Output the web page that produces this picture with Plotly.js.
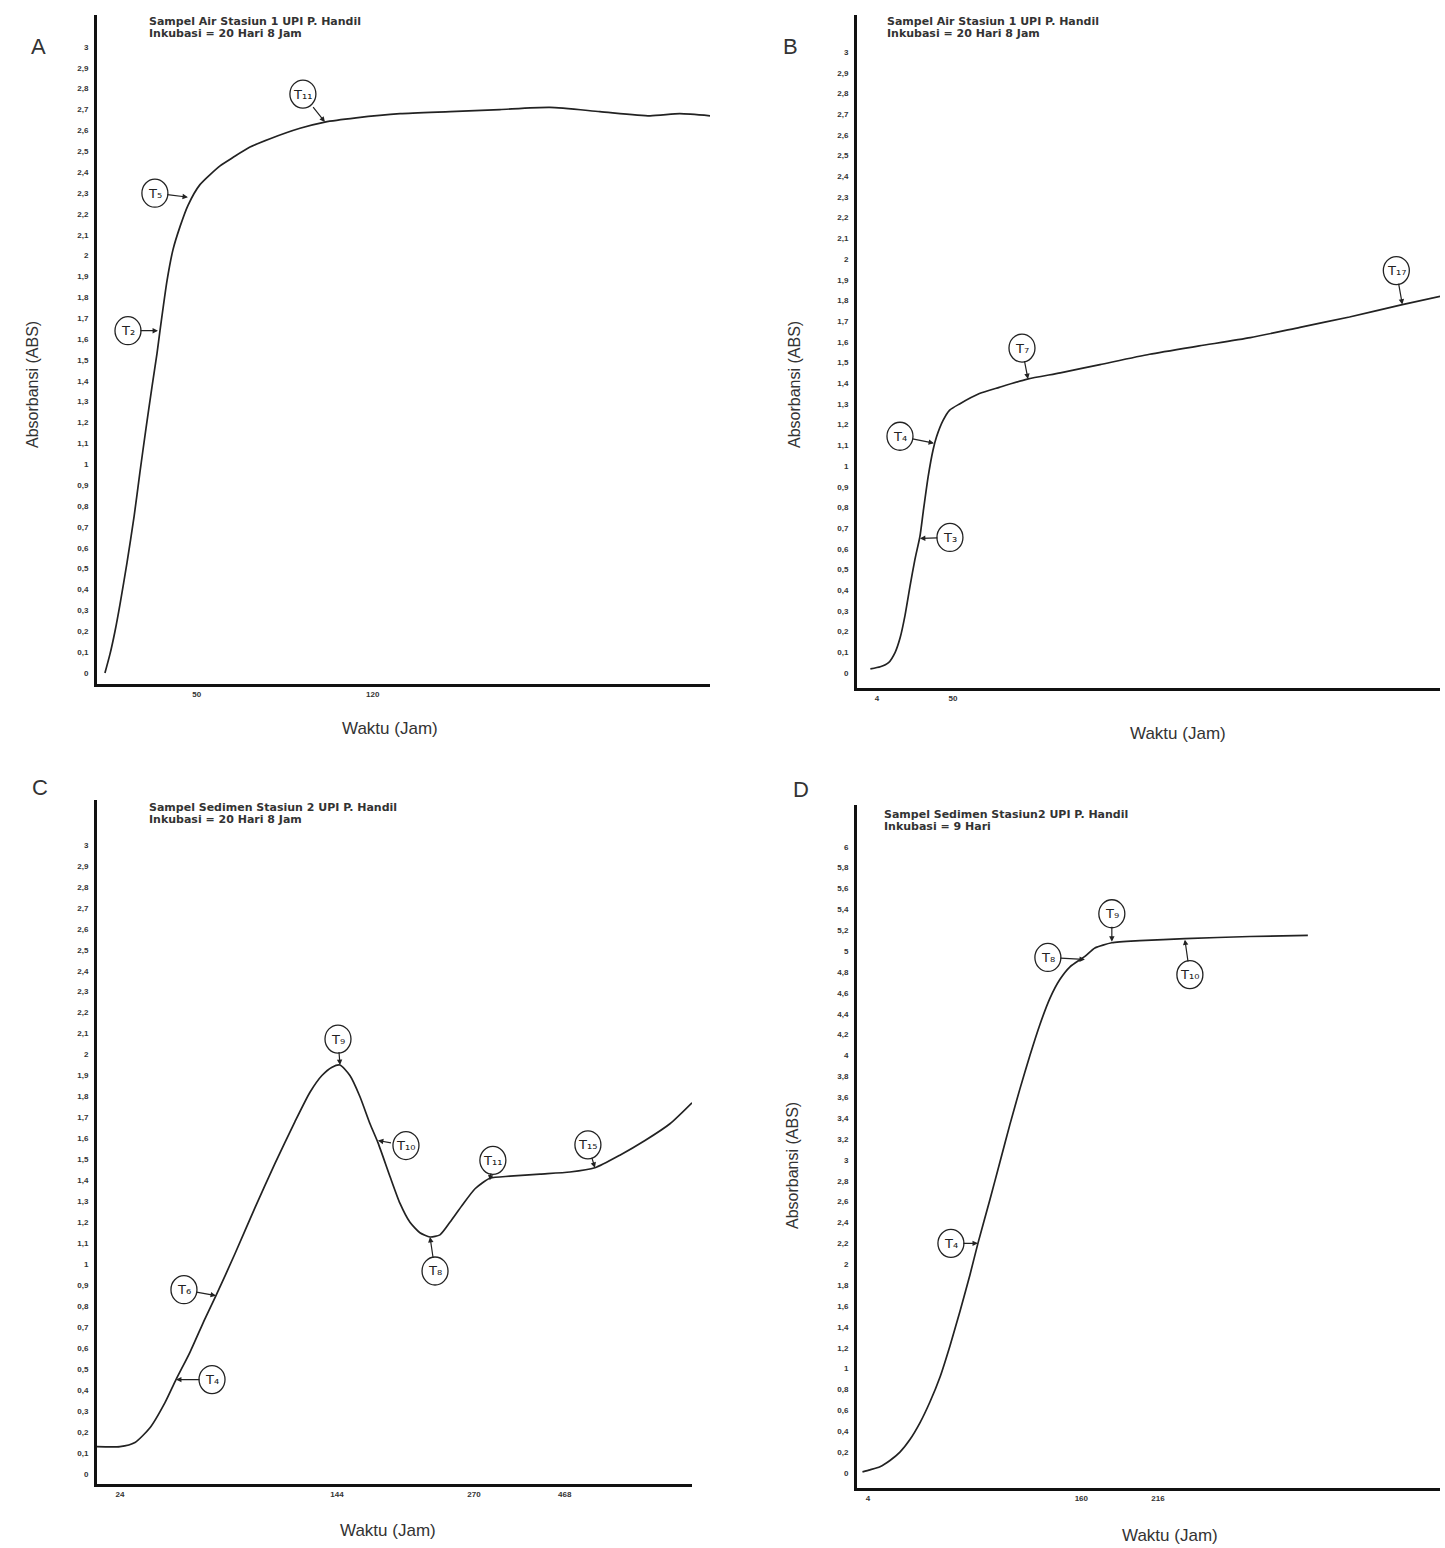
<!DOCTYPE html>
<html><head><meta charset="utf-8">
<script src="https://cdn.plot.ly/plotly-3.0.1.min.js"></script>
<style>body{margin:0;background:#fff}</style>
</head><body><div id="chart" style="width:1445px;height:1548px"></div>
<script>
// ---------- DATA ----------
// Panel A: Sampel Air Stasiun 1 (hours, absorbance)
const hoursA = [13.5,15.5,17.5,19.5,22.3,25.1,27.4,29.8,32.2,34.2,35.4,38.2,40.6,43.4,46.5,51.3,59.3,64.4,71.2,79.2,91.1,101,113.4,130.9,150.8,170.6,190.5,210.4,230.3,242.2,254.2];
const absA   = [0,0.09,0.2,0.33,0.53,0.75,0.96,1.17,1.37,1.53,1.64,1.88,2.03,2.14,2.24,2.34,2.43,2.47,2.52,2.56,2.61,2.64,2.66,2.68,2.69,2.7,2.71,2.69,2.67,2.68,2.67];
const labelsA = ["T₂","T₅","T₁₁"];
const labelHoursA = [34.6,46.5,101];
const labelAbsA = [1.64,2.28,2.64];

// Panel B
const hoursB = [0,6,11,15,18,21,24,27,30,32,35,38,40,44,48,54,66,78,95,115,139,169,199,230,260,290,322,345];
const absB   = [0.02,0.03,0.05,0.1,0.17,0.28,0.42,0.55,0.66,0.78,0.95,1.08,1.14,1.22,1.27,1.3,1.35,1.38,1.42,1.45,1.49,1.54,1.58,1.62,1.67,1.72,1.78,1.82];
const labelsB = ["T₄","T₃","T₇","T₁₇"];
const labelHoursB = [38.5,30,95.4,322];
const labelAbsB = [1.11,0.65,1.42,1.78];

// Panel C (x in the drawn axis units of the hand-made time scale)
const hoursC = [11.3,24,32.3,40.6,48.9,55,62.7,71,77.1,87.6,98.7,109.7,120.8,129.1,135.7,141.3,145.7,151.2,156.7,162.3,166.7,173.3,178.9,184.4,189.9,195.5,201,206.5,213.2,220.4,228.6,239.7,256.3,272.9,286.7,300.5,314.4,328.2,340.4];
const absC   = [0.13,0.13,0.15,0.22,0.34,0.45,0.58,0.74,0.85,1.05,1.27,1.48,1.68,1.82,1.9,1.94,1.95,1.9,1.8,1.67,1.58,1.42,1.29,1.2,1.15,1.13,1.14,1.2,1.28,1.36,1.41,1.42,1.43,1.44,1.46,1.52,1.59,1.67,1.77];
const labelsC = ["T₆","T₄","T₉","T₁₀","T₈","T₁₁","T₁₅"];
const labelHoursC = [77.1,55,145.7,166.7,195.5,228.6,286.7];
const labelAbsC = [0.85,0.45,1.95,1.59,1.13,1.4,1.46];

// Panel D
const hoursD = [0,5.5,12.8,20.1,27.4,34.7,42,49.3,56.7,64,71.3,78.6,84.4,93.2,100.5,107.8,115.1,122.4,129.8,137.1,144.4,151.7,162.6,169.9,182.3,202.8,235.7,283.2,325.6];
const absD   = [0.01,0.03,0.06,0.12,0.2,0.32,0.48,0.68,0.92,1.22,1.55,1.9,2.2,2.62,2.98,3.34,3.68,4.0,4.3,4.55,4.73,4.85,4.95,5.03,5.08,5.1,5.12,5.14,5.15];
const labelsD = ["T₄","T₈","T₉","T₁₀"];
const labelHoursD = [84.4,162.6,182.3,235.7];
const labelAbsD = [2.2,4.92,5.09,5.11];

// Tick labels (the hand-drawn time axis of C is not uniform: its labels sit at these axis units)
const xTicksA = [50,120];
const xTicksB = [4,50];
const xTickPosC = [24,144,219.8,270];
const xTickTextC = ["24","144","270","468"];
const xTicksD = [4,160,216];
const yTicks3 = []; for (let i=0;i<=30;i++) yTicks3.push(Math.round(i)/10);
const yTicks6 = []; for (let i=0;i<=30;i++) yTicks6.push(Math.round(i*2)/10);

const titlesLine1 = ["Sampel Air Stasiun 1 UPI P. Handil","Sampel Air Stasiun 1 UPI P. Handil","Sampel Sedimen Stasiun 2 UPI P. Handil","Sampel Sedimen Stasiun2 UPI P. Handil"];
const titlesLine2 = ["Inkubasi = 20 Hari 8 Jam","Inkubasi = 20 Hari 8 Jam","Inkubasi = 20 Hari 8 Jam","Inkubasi = 9 Hari"];
const panelLetters = ["A","B","C","D"];

// ---------- LAYOUT HELPERS ----------
const W = 1445, H = 1548;
const px = v => v / W;
const py = v => 1 - v / H;
const ink = '#222';
const tickFont = {family:'Arial, Liberation Sans, sans-serif', size:8, color:'#333', weight:'bold'};
const fmt = v => String(v).replace('.', ',');

function xaxis(domL, domR, range, ticks, texts){
  return {domain:[px(domL),px(domR)], range:range, showgrid:false, zeroline:false,
    showline:true, linecolor:'#111', linewidth:3, ticks:'', tickmode:'array', tickvals:ticks,
    ticktext:texts || ticks.map(String), tickfont:tickFont, fixedrange:true};
}
function yaxis(top, bottom, range, ticks, xa){
  return {domain:[py(bottom),py(top)], range:range, showgrid:false, zeroline:false,
    showline:true, linecolor:'#111', linewidth:3, ticks:'', tickmode:'array',
    tickvals:ticks, ticktext:ticks.map(fmt),
    tickfont:tickFont, ticklabelstandoff:4, anchor:xa, fixedrange:true};
}

const layout = {
  width:W, height:H, margin:{l:0,r:0,t:0,b:0}, paper_bgcolor:'#fff', plot_bgcolor:'rgba(0,0,0,0)',
  separators:', ', showlegend:false,
  font:{family:'Arial, Liberation Sans, sans-serif', color:'#333'},
  xaxis:  Object.assign(xaxis(97, 710, [10.34, 254.2], xTicksA), {anchor:'y'}),
  yaxis:  yaxis(15, 684, [-0.053, 3.153], yTicks3, 'x'),
  xaxis2: Object.assign(xaxis(857, 1440, [-8.1, 344.8], xTicksB), {anchor:'y2'}),
  yaxis2: yaxis(15, 688, [-0.0725, 3.179], yTicks3, 'x2'),
  xaxis3: Object.assign(xaxis(97, 692, [11.3, 340.4], xTickPosC, xTickTextC), {anchor:'y3'}),
  yaxis3: yaxis(800, 1484, [-0.048, 3.214], yTicks3, 'x3'),
  xaxis4: Object.assign(xaxis(857, 1440, [-4.0, 422.2], xTicksD), {anchor:'y4'}),
  yaxis4: yaxis(805, 1488, [-0.144, 6.40], yTicks6, 'x4'),
  annotations:[], shapes:[]
};

const traceStyle = {mode:'lines', line:{color:ink, width:1.7, shape:'spline', smoothing:0.6}, hoverinfo:'skip'};
const data = [
  Object.assign({x:hoursA, y:absA, xaxis:'x', yaxis:'y'}, traceStyle),
  Object.assign({x:hoursB, y:absB, xaxis:'x2', yaxis:'y2'}, traceStyle),
  Object.assign({x:hoursC, y:absC, xaxis:'x3', yaxis:'y3'}, traceStyle),
  Object.assign({x:hoursD, y:absD, xaxis:'x4', yaxis:'y4'}, traceStyle)
];

// label offsets (pixels) for the circled markers
const offsets = {
  A:[[-30,0],[-33,-4],[-22,-28]],
  B:[[-34,-7],[30,-1],[-6,-31],[-6,-34]],
  C:[[-32,-6],[36,0],[-2,-26],[28,5],[5,34],[3,-20],[-7,-23]],
  D:[[-27,0],[-37,-2],[0,-28],[5,35]]
};
function addMarkers(labels, hrs, abs, offs, xr, yr){
  labels.forEach((t,i)=>{
    const [ax,ay] = offs[i];
    layout.annotations.push({xref:xr, yref:yr, x:hrs[i], y:abs[i], ax:ax, ay:ay,
      text:t, showarrow:true, arrowhead:2, arrowsize:0.9, arrowwidth:1.2, arrowcolor:ink,
      standoff:0, borderpad:5, font:{size:13, color:ink, family:'DejaVu Sans, sans-serif'}});
    layout.shapes.push({type:'circle', xref:xr, yref:yr, xsizemode:'pixel', ysizemode:'pixel',
      xanchor:hrs[i], yanchor:abs[i], x0:ax-13, x1:ax+13, y0:-ay-14, y1:-ay+14,
      line:{color:ink, width:1.3}});
  });
}
addMarkers(labelsA, labelHoursA, labelAbsA, offsets.A, 'x', 'y');
addMarkers(labelsB, labelHoursB, labelAbsB, offsets.B, 'x2', 'y2');
addMarkers(labelsC, labelHoursC, labelAbsC, offsets.C, 'x3', 'y3');
addMarkers(labelsD, labelHoursD, labelAbsD, offsets.D, 'x4', 'y4');

// panel letters, titles, axis titles
const letterPos = [[38,47],[791,47],[40,787],[801,789]];
const titlePos = [[147,21],[885,21],[147,807],[882,814]];
const xTitlePos = [[390,729],[1178,733],[388,1530],[1170,1535]];
const yTitlePos = [[33,385],[795,385],null,[792,1165]];
const titleFont = {family:'DejaVu Sans, sans-serif', size:11, color:'#333', weight:'bold'};
for (let i=0;i<4;i++){
  layout.annotations.push({xref:'paper', yref:'paper', x:px(letterPos[i][0]), y:py(letterPos[i][1]),
    text:panelLetters[i], showarrow:false, font:{size:22, color:'#333'}, xanchor:'center', yanchor:'middle'});
  layout.annotations.push({xref:'paper', yref:'paper', x:px(titlePos[i][0]), y:py(titlePos[i][1]),
    text:titlesLine1[i], showarrow:false, font:titleFont, xanchor:'left', yanchor:'middle'});
  layout.annotations.push({xref:'paper', yref:'paper', x:px(titlePos[i][0]), y:py(titlePos[i][1]+12),
    text:titlesLine2[i], showarrow:false, font:titleFont, xanchor:'left', yanchor:'middle'});
  layout.annotations.push({xref:'paper', yref:'paper', x:px(xTitlePos[i][0]), y:py(xTitlePos[i][1]),
    text:'Waktu (Jam)', showarrow:false, font:{size:17, color:'#333'}, xanchor:'center', yanchor:'middle'});
  if (yTitlePos[i]) layout.annotations.push({xref:'paper', yref:'paper', x:px(yTitlePos[i][0]), y:py(yTitlePos[i][1]),
    text:'Absorbansi (ABS)', textangle:-90, showarrow:false, font:{size:16, color:'#333'}, xanchor:'center', yanchor:'middle'});
}

Plotly.newPlot('chart', data, layout, {staticPlot:true});
</script></body></html>
